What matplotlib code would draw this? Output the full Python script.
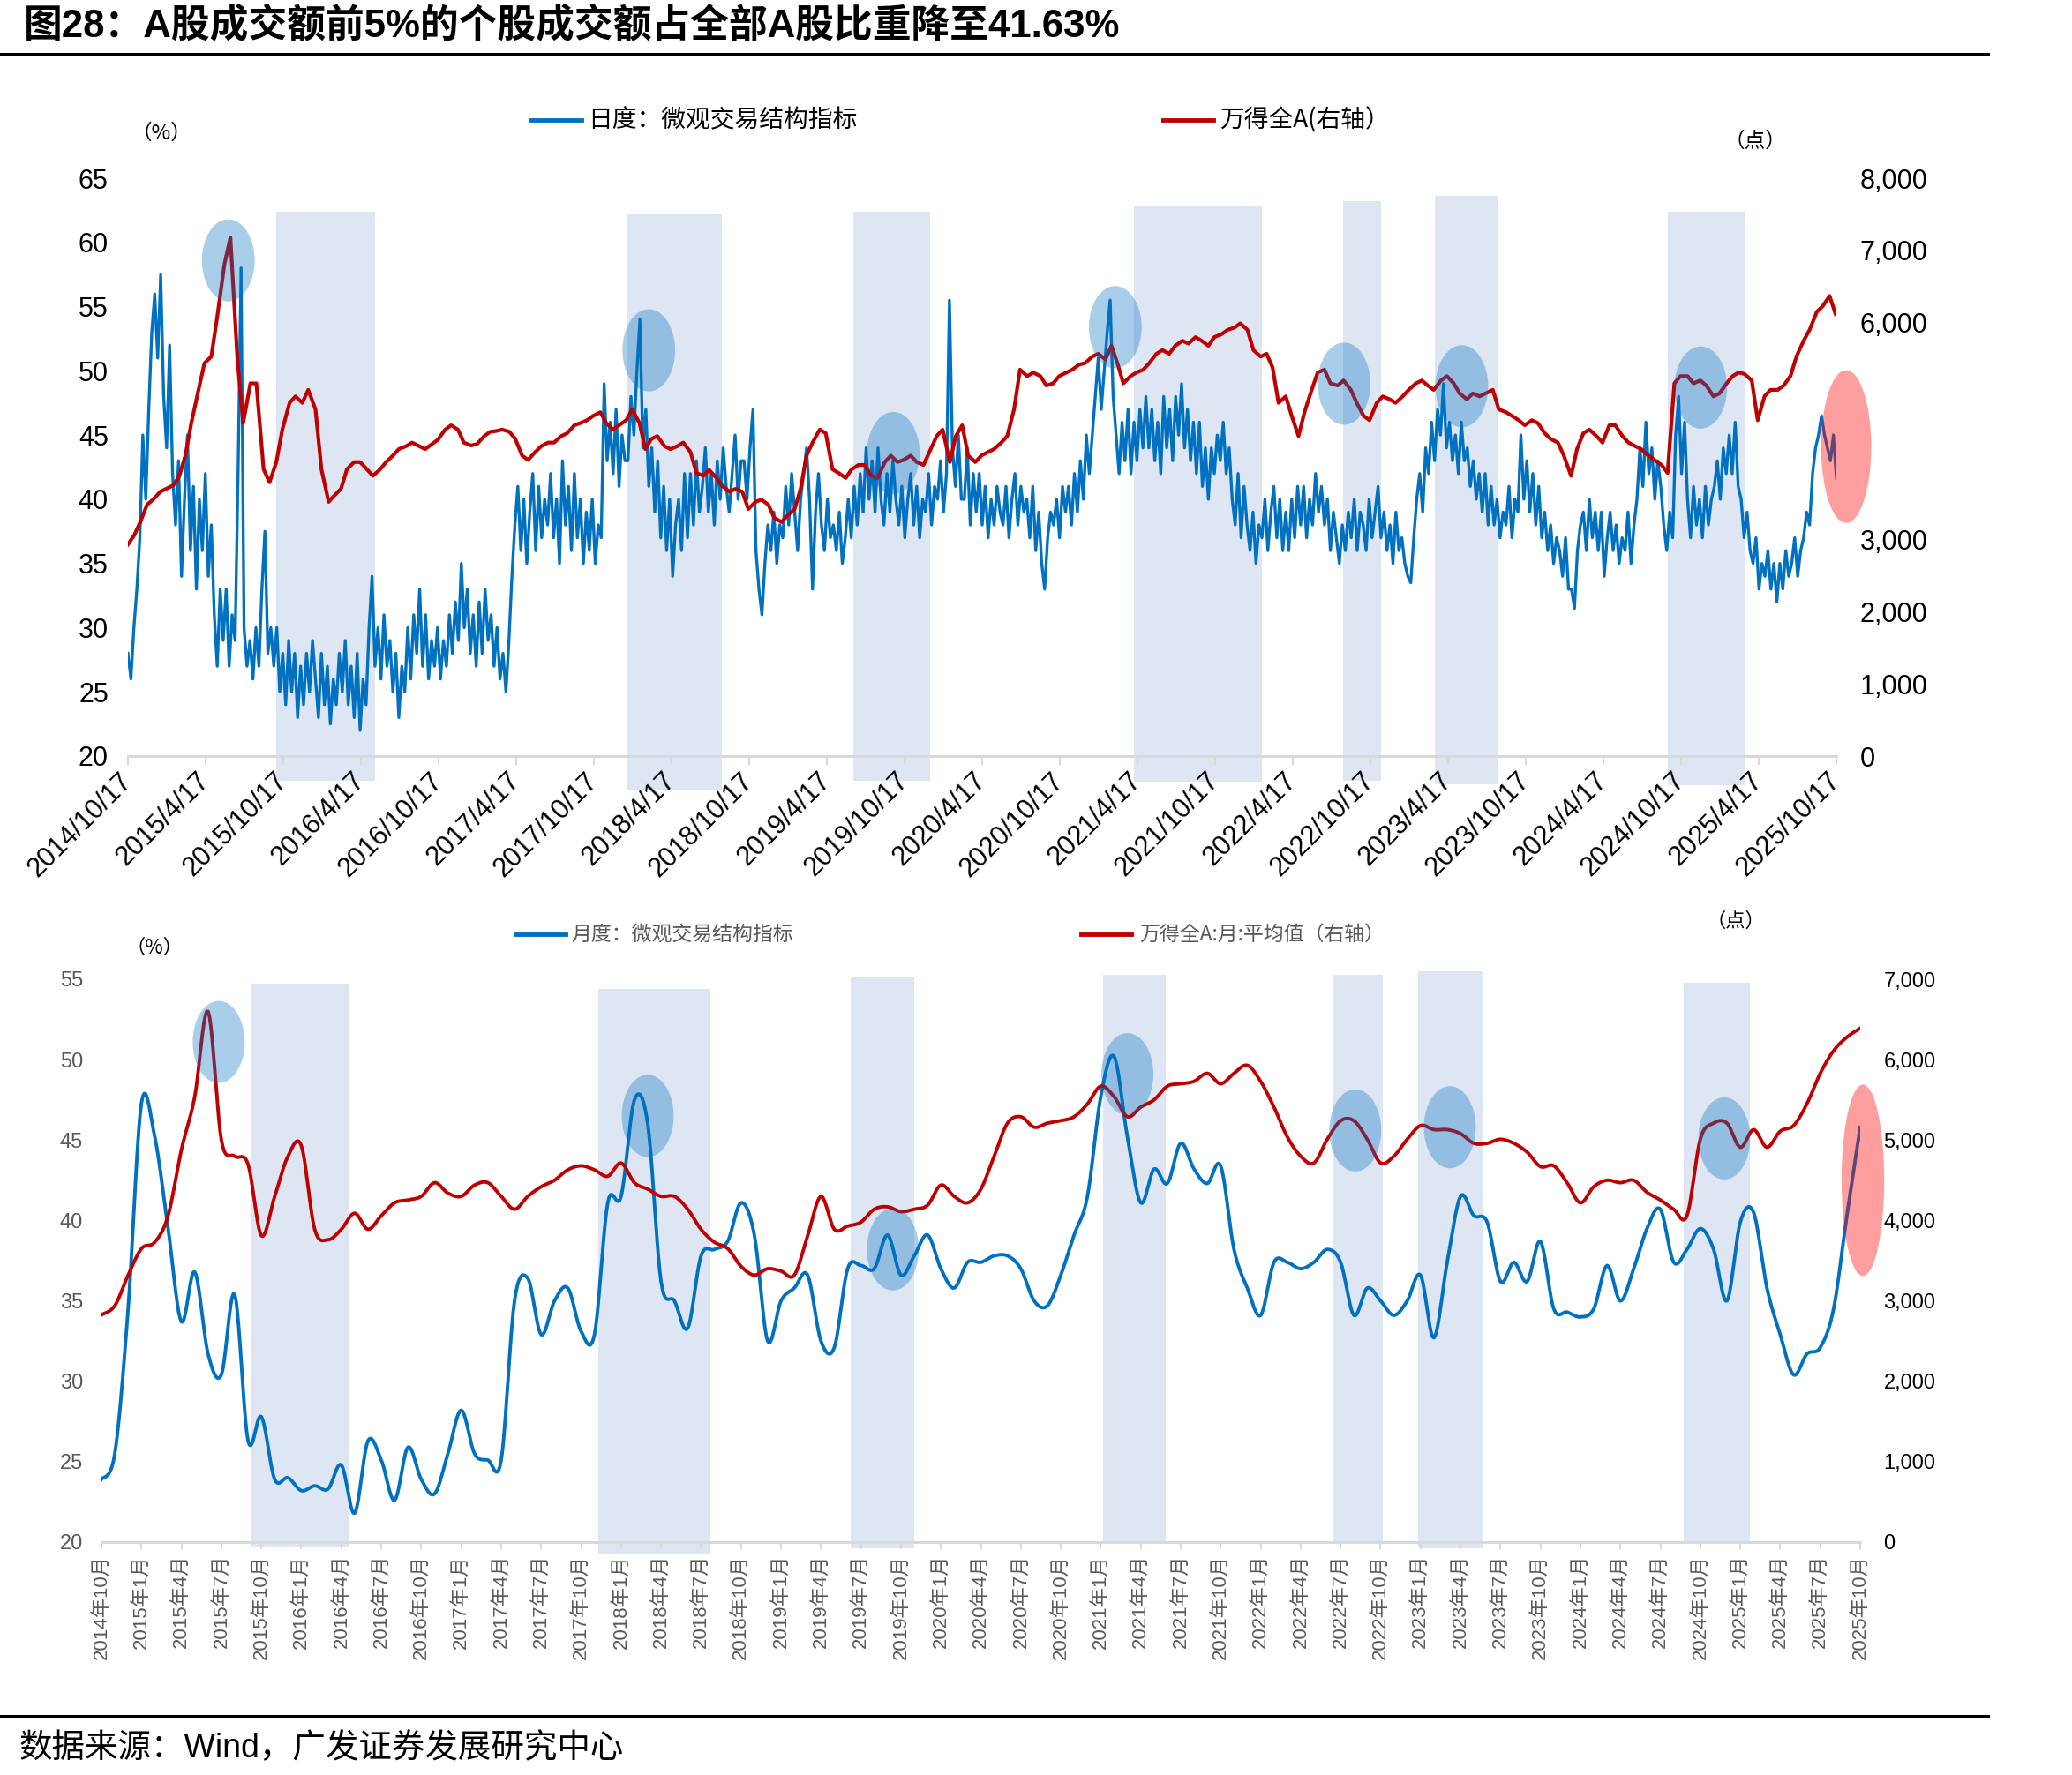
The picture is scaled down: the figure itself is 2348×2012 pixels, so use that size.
import numpy as np
import pandas as pd
import matplotlib
matplotlib.use("Agg")
import matplotlib.pyplot as plt
import matplotlib.dates as mdates
from matplotlib.patches import Ellipse, Rectangle
from matplotlib.lines import Line2D

plt.rcParams["font.family"] = ["Liberation Sans", "Noto Sans CJK SC"]

# ---------------- data: daily panel ----------------
# share of turnover of the top-5% stocks, one reading per week (Fridays from 2014-10-17)
share_2014 = [28, 26, 30, 33, 37, 45, 40, 47, 53, 56, 51]
share_2015 = [57.5, 48, 44, 52, 42, 38, 43, 34, 40, 45, 36, 41, 33, 40, 36, 42, 34,
              38, 31, 27, 33, 29, 33, 27, 31, 29, 42, 58, 30, 27, 29, 26, 30, 27, 33,
              37.5, 28, 30, 27, 30, 25, 28, 24, 29, 25, 28, 23, 27, 24, 28, 25, 29]
share_2016 = [26, 23, 28, 24, 27, 22.5, 26, 24, 28, 25, 29, 24, 27, 23, 28, 22, 26, 24,
              30, 34, 27, 30, 26, 31, 27, 29, 25, 28, 23, 27, 25, 30, 26, 31, 28, 33,
              27, 31, 26, 29, 27, 30, 26, 29, 27, 31, 28, 32, 29, 35, 30, 33, 28]
share_2017 = [31, 27, 32, 28, 33, 29, 31, 27, 30, 26, 28, 25, 29, 34, 38, 41, 36, 40,
              35, 39, 42, 36, 41, 37, 40, 38, 42, 37, 40, 35, 43, 38, 41, 36, 42, 37,
              40, 35, 39, 36, 40, 35, 38, 37, 49, 43, 46, 42, 47, 41, 45, 43]
share_2018 = [43, 48, 45, 50, 54, 44, 47, 41, 44, 39, 43, 37, 41, 36, 40, 34, 38, 40,
              36, 42, 37, 42, 38, 43, 39, 41, 44, 39, 42, 38, 43, 40, 44, 41, 39, 42,
              45, 40, 43, 43, 40, 44, 47, 36, 33, 31, 35, 38, 36, 39, 35, 38]
share_2019 = [37, 41, 38, 42, 39, 36, 40, 42, 44, 40, 33, 39, 42, 38, 36, 40, 37, 38,
              36, 39, 35, 37, 40, 37, 41, 38, 42, 39, 44, 40, 43, 39, 44, 40, 38, 42,
              39, 43, 40, 38, 41, 37, 40, 42, 38, 41, 37, 40, 39, 42, 38, 41]
share_2020 = [40, 43, 39, 42, 55.5, 44, 41, 45, 40, 40, 44, 38, 42, 39, 42, 38, 41, 37,
              40, 38, 41, 39, 38, 41, 37, 40, 42, 38, 41, 39, 40, 37, 41, 36, 39, 35,
              33, 37, 39, 38, 40, 37, 41, 39, 41, 38, 42, 39, 43, 40, 45, 42]
share_2021 = [45, 48, 51, 47, 50, 53, 55.5, 48, 45, 42, 46, 43, 47, 42, 46, 43, 47, 44,
              48, 44, 47, 43, 46, 42, 48, 44, 47, 43, 48, 45, 49, 44, 47, 43, 46, 42,
              46, 41, 44, 40, 44, 42, 45, 43, 46, 42, 44, 40, 38, 42, 37, 41, 38]
share_2022 = [36, 39, 35, 38, 37, 40, 36, 39, 41, 37, 40, 36, 39, 36, 40, 37, 41, 38,
              41, 37, 40, 38, 42, 39, 41, 38, 40, 36, 39, 37, 35, 38, 36, 39, 37, 40,
              36, 39, 38, 36, 40, 37, 39, 41, 37, 39, 36, 38, 35, 39, 36, 37]
share_2023 = [35, 34, 33.5, 37, 40, 42, 39, 44, 42, 46, 43, 47, 45, 49, 44, 46, 43, 45,
              42, 46, 43, 44, 41, 43, 40, 42, 39, 42, 38, 41, 38, 40, 37, 39, 38, 41,
              37, 40, 39, 45, 40, 43, 39, 42, 38, 41, 37, 39, 36, 38, 35, 37]
share_2024 = [36, 34, 37, 33, 33, 31.5, 36, 38, 39, 36, 40, 37, 39, 36, 39, 34, 37, 39,
              36, 38, 35, 37, 36, 39, 35, 38, 40, 44, 41, 46, 42, 44, 40, 43, 41, 38,
              36, 39, 37, 45, 48, 42, 46, 40, 37, 41, 38, 40, 37, 41, 38, 40]
share_2025 = [41, 43, 40, 44, 42, 45, 42, 46, 41, 40, 37, 39, 36, 35, 37, 33, 35, 34,
              36, 33, 35, 32, 35, 33, 36, 34, 35, 37, 34, 36, 37, 39, 38, 42, 44, 45,
              46.5, 45, 44, 43, 45, 41.63]

# Wind All A index, two readings a month (1st and 15th)
index_2014 = [2930, 3060, 3240, 3480, 3550]
index_2015 = [3660, 3700, 3750, 3880, 4160, 4610, 5070, 5440, 5530, 6080, 6810, 7180,
              5530, 4610, 5160, 5160, 3970, 3790, 4070, 4520, 4890, 4980, 4890, 5070]
index_2016 = [4800, 3970, 3520, 3610, 3700, 3970, 4070, 4070, 3970, 3880, 3970, 4070,
              4160, 4250, 4290, 4340, 4290, 4250, 4320, 4380, 4520, 4580, 4520, 4340]
index_2017 = [4300, 4320, 4430, 4490, 4500, 4520, 4490, 4390, 4160, 4100, 4210, 4290,
              4340, 4340, 4430, 4470, 4580, 4610, 4650, 4710, 4760, 4610, 4520, 4580]
index_2018 = [4650, 4800, 4610, 4250, 4390, 4430, 4290, 4250, 4290, 4340, 4210, 3920,
              3880, 3960, 3850, 3740, 3660, 3700, 3660, 3420, 3520, 3550, 3480, 3300]
index_2019 = [3240, 3330, 3420, 3700, 4160, 4340, 4520, 4470, 3970, 3920, 3850, 3970,
              4030, 4030, 3880, 3850, 4070, 4160, 4070, 4100, 4160, 4070, 4030, 4210]
index_2020 = [4430, 4520, 4070, 4430, 4580, 4160, 4070, 4160, 4210, 4250, 4340, 4430,
              4800, 5350, 5260, 5310, 5260, 5130, 5160, 5260, 5310, 5350, 5420, 5440]
index_2021 = [5530, 5570, 5490, 5680, 5440, 5160, 5260, 5310, 5350, 5440, 5570, 5620,
              5570, 5680, 5750, 5710, 5800, 5750, 5680, 5800, 5840, 5900, 5930, 5990]
index_2022 = [5900, 5620, 5530, 5570, 5380, 4890, 4980, 4710, 4430, 4760, 5070, 5310,
              5350, 5160, 5130, 5200, 5070, 4890, 4710, 4650, 4890, 4980, 4940, 4890]
index_2023 = [4980, 5070, 5160, 5200, 5130, 5070, 5200, 5260, 5160, 5020, 4940, 5020,
              4980, 5020, 5070, 4800, 4760, 4710, 4650, 4580, 4650, 4610, 4470, 4390]
index_2024 = [4340, 4160, 3880, 4250, 4470, 4520, 4430, 4340, 4580, 4580, 4430, 4340,
              4290, 4250, 4160, 4100, 4030, 3920, 5160, 5260, 5260, 5160, 5200, 5130]
index_2025 = [4980, 5020, 5160, 5260, 5310, 5290, 5200, 4650, 4980, 5070, 5070, 5130,
              5260, 5530, 5750, 5900, 6150, 6230, 6370, 6120]

daily_share = (share_2014 + share_2015 + share_2016 + share_2017 + share_2018 + share_2019
               + share_2020 + share_2021 + share_2022 + share_2023 + share_2024 + share_2025)
daily_index = (index_2014 + index_2015 + index_2016 + index_2017 + index_2018 + index_2019
               + index_2020 + index_2021 + index_2022 + index_2023 + index_2024 + index_2025)
share_dates = pd.date_range("2014-10-17", periods=len(daily_share), freq="W-FRI")
index_dates = [pd.Timestamp("2014-10-17")] + list(pd.date_range("2014-11-01", "2025-10-15", freq="SMS"))
index_dates = index_dates[:len(daily_index)]

# ---------------- data: monthly panel ----------------
months = pd.period_range("2014-10", "2025-10", freq="M")

monthly_share = [
    23.9, 25.5, 34.5, 47.3, 45.2, 39.5, 33.7, 36.8, 31.7, 30.4, 35.4, 26.3,
    27.8, 23.9, 24.0, 23.2, 23.5, 23.3, 24.8, 21.8, 26.3, 25.1, 22.6, 25.9,
    23.9, 23.0, 25.5, 28.2, 25.5, 25.1, 25.1, 35.0, 36.4, 32.9, 35.0, 35.8,
    33.1, 32.9, 41.1, 41.5, 47.5, 46.0, 36.2, 35.0, 33.3, 37.8, 38.2, 38.7,
    41.1, 39.1, 32.5, 35.0, 35.8, 36.6, 32.5, 32.1, 37.0, 37.2, 37.0, 39.1,
    36.6, 37.8, 39.1, 37.0, 35.8, 37.4, 37.4, 37.8, 37.8, 37.0, 35.0, 34.7,
    36.6, 39.1, 41.5, 47.7, 50.2, 45.2, 41.1, 43.2, 42.3, 44.8, 43.2, 42.3,
    43.4, 38.2, 35.8, 34.1, 37.4, 37.4, 37.0, 37.4, 38.2, 37.4, 34.1, 35.8,
    35.0, 34.1, 35.0, 36.6, 32.7, 37.4, 41.5, 40.3, 39.9, 36.2, 37.4, 36.2,
    38.7, 34.5, 34.3, 34.0, 34.5, 37.2, 35.0, 37.0, 39.5, 40.7, 37.4, 38.2,
    39.5, 38.2, 35.0, 39.9, 40.5, 35.8, 32.9, 30.4, 31.7, 32.1, 34.5, 40.3,
    45.8,
]

monthly_index = [
    2826, 2940, 3320, 3650, 3730, 4060, 4880, 5540, 6600, 5000, 4800, 4700,
    3810, 4300, 4800, 4930, 3890, 3760, 3890, 4090, 3890, 4060, 4220, 4255,
    4300, 4470, 4340, 4300, 4440, 4470, 4300, 4140, 4300, 4420, 4500, 4630,
    4680, 4630, 4550, 4715, 4470, 4390, 4300, 4300, 4140, 3890, 3730, 3650,
    3430, 3320, 3400, 3370, 3320, 3810, 4300, 3890, 3930, 3980, 4140, 4170,
    4110, 4140, 4190, 4440, 4300, 4220, 4390, 4800, 5210, 5290, 5160, 5210,
    5240, 5290, 5450, 5670, 5540, 5290, 5410, 5500, 5670, 5700, 5730, 5830,
    5700, 5830, 5930, 5730, 5410, 5040, 4800, 4715, 5010, 5240, 5240, 5010,
    4715, 4800, 5010, 5180, 5130, 5130, 5080, 4960, 4960, 5010, 4960, 4850,
    4670, 4680, 4470, 4220, 4420, 4500, 4470, 4500, 4350, 4255, 4140, 4060,
    5010, 5210, 5210, 4910, 5130, 4910, 5110, 5180, 5450, 5830, 6110, 6280,
    6390,
]

# highlighted periods and circled points
top_spans = [("2015-09-30", "2016-05-20"), ("2018-01-01", "2018-08-13"), ("2019-06-20", "2019-12-17"),
             ("2021-04-09", "2022-02-04"), ("2022-08-13", "2022-11-11"), ("2023-03-18", "2023-08-15"),
             ("2024-09-15", "2025-03-15")]
top_span_hi = [62.4, 62.2, 62.4, 62.9, 63.2, 63.6, 62.4]
top_span_lo = [18.1, 17.3, 18.1, 18.0, 18.1, 17.8, 17.7]

top_circles = [("2015-06-10", 58.6), ("2018-02-23", 51.6), ("2019-09-21", 43.6), ("2021-02-24", 53.4),
               ("2022-08-16", 49.0), ("2023-05-20", 48.8), ("2024-12-02", 48.7)]
top_latest = ("2025-11-09", 44.1)

bot_spans = [(11.2, 18.55), (37.3, 45.7), (56.25, 61.0), (75.2, 79.9), (92.4, 96.2), (98.8, 103.7), (118.75, 123.7)]
bot_span_hi = [54.7, 54.4, 55.1, 55.3, 55.25, 55.5, 54.8]
bot_span_lo = [19.75, 19.3, 19.6, 19.9, 19.9, 19.6, 19.9]

bot_circles = [(8.8, 51.1), (41.0, 46.5), (59.4, 38.2), (77.0, 49.1), (94.1, 45.6), (101.2, 45.8), (121.8, 45.1)]
bot_latest = (132.2, 42.5)

BLUE = "#0070C0"
RED = "#C00000"
SHADE = "#DFE6F3"
GREY = "#595959"
AXIS = "#D9D9D9"

W, H = 2348, 2012
fig = plt.figure(figsize=(W / 100, H / 100), dpi=100)


def fx(x):
    return x / W


def fy(y):
    return 1 - y / H


def smooth(x, y, n=10):
    # Catmull-Rom path through the monthly points, like a smoothed Excel line
    p = np.column_stack([x, y]).astype(float)
    p = np.vstack([p[0], p, p[-1]])
    t = np.linspace(0, 1, n, endpoint=False)[:, None]
    segs = []
    for i in range(1, len(p) - 2):
        p0, p1, p2, p3 = p[i - 1], p[i], p[i + 1], p[i + 2]
        segs.append(0.5 * (2 * p1 + (-p0 + p2) * t + (2 * p0 - 5 * p1 + 4 * p2 - p3) * t ** 2
                           + (-p0 + 3 * p1 - 3 * p2 + p3) * t ** 3))
    segs.append(p[-2][None, :])
    out = np.vstack(segs)
    return out[:, 0], out[:, 1]


# ================= top panel: daily =================
ax1 = fig.add_axes([fx(145), fy(857), fx(2081) - fx(145), fy(202) - fy(857)])
ax2 = ax1.twinx()

for (s, e), hi, lo in zip(top_spans, top_span_hi, top_span_lo):
    x0 = mdates.date2num(pd.Timestamp(s))
    x1 = mdates.date2num(pd.Timestamp(e))
    ax1.add_patch(Rectangle((x0, lo), x1 - x0, hi - lo, facecolor=SHADE, edgecolor="none",
                            zorder=0, clip_on=False))

ax1.plot(mdates.date2num(share_dates), daily_share, color=BLUE, lw=2.4, zorder=2)
ax2.plot(mdates.date2num(index_dates), daily_index, color=RED, lw=3.0, zorder=2)

for d, v in top_circles:
    ax2.add_patch(Ellipse((mdates.date2num(pd.Timestamp(d)), v), 124, 6.4, transform=ax1.transData,
                          facecolor=BLUE, alpha=0.34, edgecolor="none", zorder=5, clip_on=False))
ax2.add_patch(Ellipse((mdates.date2num(pd.Timestamp(top_latest[0])), top_latest[1]), 118, 11.9,
                      transform=ax1.transData, facecolor="#FF0000", alpha=0.38, edgecolor="none",
                      zorder=5, clip_on=False))

x_start = mdates.date2num(pd.Timestamp("2014-10-17"))
x_end = mdates.date2num(pd.Timestamp("2025-10-17"))
ax1.set_xlim(x_start, x_end)
ax1.set_ylim(20, 65)
ax2.set_ylim(0, 8000)

tick_dates = [pd.Timestamp("2014-10-17") + pd.DateOffset(months=6 * k) for k in range(23)]
ax1.set_xticks(mdates.date2num(tick_dates))
ax1.set_xticklabels([f"{d.year}/{d.month}/{d.day}" for d in tick_dates], rotation=45,
                    ha="right", va="center", rotation_mode="anchor", fontsize=22)
ax1.set_yticks(range(20, 66, 5))
ax1.tick_params(axis="y", length=0, pad=16, labelsize=22)
ax1.tick_params(axis="x", length=7, width=1.5, color=AXIS, pad=10)
ax2.set_yticks([0, 1000, 2000, 3000, 6000, 7000, 8000])
ax2.set_yticklabels([f"{v:,}" for v in [0, 1000, 2000, 3000, 6000, 7000, 8000]])
ax2.tick_params(axis="y", length=0, pad=19, labelsize=22)

for a in (ax1, ax2):
    for s in ("top", "left", "right", "bottom"):
        a.spines[s].set_visible(False)
ax1.spines["bottom"].set_visible(True)
ax1.spines["bottom"].set_color(AXIS)
ax1.spines["bottom"].set_linewidth(2.2)

# ================= bottom panel: monthly =================
ax3 = fig.add_axes([fx(115), fy(1748), fx(2108) - fx(115), fy(1110) - fy(1748)])
ax4 = ax3.twinx()
xm = np.arange(len(months))

for (s, e), hi, lo in zip(bot_spans, bot_span_hi, bot_span_lo):
    ax3.add_patch(Rectangle((s, lo), e - s, hi - lo, facecolor=SHADE, edgecolor="none",
                            zorder=0, clip_on=False))

sx, sy = smooth(xm, monthly_share)
ax3.plot(sx, sy, color=BLUE, lw=2.8, zorder=2)
rx, ry = smooth(xm, monthly_index)
ax4.plot(rx, ry, color=RED, lw=2.8, zorder=2)

for i, v in bot_circles:
    ax4.add_patch(Ellipse((i, v), 3.9, 5.1, transform=ax3.transData, facecolor=BLUE, alpha=0.34,
                          edgecolor="none", zorder=5, clip_on=False))
ax4.add_patch(Ellipse(bot_latest, 3.2, 11.9, transform=ax3.transData, facecolor="#FF0000",
                      alpha=0.38, edgecolor="none", zorder=5, clip_on=False))

ax3.set_xlim(0, len(months) - 1)
ax3.set_ylim(20, 55)
ax4.set_ylim(0, 7000)
qpos = xm[::3]
ax3.set_xticks(qpos)
ax3.set_xticklabels([f"{months[i].year}年{months[i].month}月" for i in qpos], rotation=90,
                    fontsize=16, color=GREY)
ax3.tick_params(axis="x", length=6, width=1.5, color=AXIS, pad=4)
ax3.set_yticks(range(20, 56, 5))
ax3.tick_params(axis="y", length=0, pad=15, labelsize=17, labelcolor=GREY)
ax4.set_yticks(range(0, 7001, 1000))
ax4.set_yticklabels([f"{v:,}" for v in range(0, 7001, 1000)])
ax4.tick_params(axis="y", length=0, pad=19, labelsize=17)

for a in (ax3, ax4):
    for s in ("top", "left", "right", "bottom"):
        a.spines[s].set_visible(False)
ax3.spines["bottom"].set_visible(True)
ax3.spines["bottom"].set_color(AXIS)
ax3.spines["bottom"].set_linewidth(2.2)

# ================= legends, units, title, source =================
cjk = ["Noto Sans CJK SC"]

fig.add_artist(Line2D([fx(602), fx(659)], [fy(136), fy(136)], color=BLUE, lw=3.5))
fig.text(fx(666), fy(136), "日度：微观交易结构指标", fontsize=20, family=cjk, va="center")
fig.add_artist(Line2D([fx(1318), fx(1375)], [fy(136), fy(136)], color=RED, lw=3.5))
fig.text(fx(1382), fy(136), "万得全A(右轴）", fontsize=20, family=cjk, va="center")

fig.add_artist(Line2D([fx(584), fx(641)], [fy(1059), fy(1059)], color=BLUE, lw=3.5))
fig.text(fx(647), fy(1059), "月度：微观交易结构指标", fontsize=16.5, family=cjk, va="center", color=GREY)
fig.add_artist(Line2D([fx(1225), fx(1282)], [fy(1059), fy(1059)], color=RED, lw=3.5))
fig.text(fx(1291), fy(1059), "万得全A:月:平均值（右轴）", fontsize=16.5, family=cjk, va="center", color=GREY)

fig.text(fx(183), fy(151), "（%）", fontsize=17, family=cjk, ha="center", va="center")
fig.text(fx(1989), fy(160), "（点）", fontsize=17, family=cjk, ha="center", va="center")
fig.text(fx(175), fy(1074), "（%）", fontsize=16, family=cjk, ha="center", va="center")
fig.text(fx(1967), fy(1044), "（点）", fontsize=16, family=cjk, ha="center", va="center")

fig.text(fx(27), fy(29), "图28：A股成交额前5%的个股成交额占全部A股比重降至41.63%",
         fontsize=31.5, fontweight="bold", va="center", ha="left")
fig.add_artist(Line2D([0, fx(2253)], [fy(61), fy(61)], color="black", lw=2.2))
fig.add_artist(Line2D([0, fx(2253)], [fy(1945), fy(1945)], color="black", lw=2.2))
fig.text(fx(22), fy(1982), "数据来源：Wind，广发证券发展研究中心", fontsize=27, va="center", ha="left")

fig.savefig("out.png", dpi=100, facecolor="white")
